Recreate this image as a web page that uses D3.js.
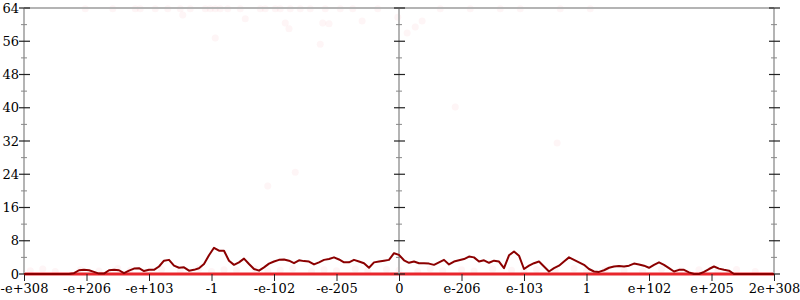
<!DOCTYPE html>
<html>
<head>
<meta charset="utf-8">
<script src="https://cdn.jsdelivr.net/npm/d3@7"></script>
<style>
  body { margin: 0; background: #fff; }
  text { font-family: "DejaVu Serif", serif; font-size: 13px; fill: #000; }
</style>
</head>
<body>
<div id="chart"></div>
<script>
// tick labels along x (evenly spaced positions 0..12)
var xLabels = ["-e+308", "-e+206", "-e+103", "-1", "-e-102", "-e-205", "0",
               "e-206", "e-103", "1", "e+102", "e+205", "2e+308"];
var yTicks = [0, 8, 16, 24, 32, 40, 48, 56, 64];
var yMinor = [4, 12, 20, 28, 36, 44, 52, 60];

// running average, 151 samples over the whole x range
var avgValues = [
  0, 0, 0, 0, 0, 0, 0, 0, 0, 0,
  0.2, 0.9, 1, 0.9, 0.5, 0.1, 0.1, 0.9, 1, 0.9,
  0.2, 0.8, 1.3, 1.4, 0.7, 1, 1, 1.8, 3.2, 3.4,
  2, 1.5, 1.6, 0.8, 1, 1.4, 2.4, 4.5, 6.3, 5.6,
  5.6, 3.2, 2.2, 2.8, 3.7, 2.4, 1.2, 0.8, 1.6, 2.5,
  3, 3.4, 3.5, 3.2, 2.6, 3.3, 3.1, 3, 2.3, 2.8,
  3.4, 3.6, 4, 3.5, 2.8, 2.8, 3.4, 3, 2.6, 1.5,
  2.8, 3, 3.2, 3.4, 5, 4.6, 3.3, 2.7, 3, 2.6,
  2.6, 2.5, 2.2, 2.8, 3.4, 2.3, 3, 3.3, 3.6, 4.2,
  4, 3, 3.3, 2.7, 3.2, 3, 1.4, 4.5, 5.4, 4.4,
  1.2, 2, 2.6, 3, 1.8, 0.6, 1.4, 2, 3, 4,
  3.4, 2.8, 2.2, 1.2, 0.6, 0.5, 0.9, 1.5, 1.8, 1.9,
  1.8, 2, 2.5, 2.3, 2, 1.5, 2.2, 2.8, 2.2, 1.4,
  0.6, 1, 1, 0.4, 0, 0, 0.5, 1.2, 1.8, 1.3,
  1, 0.8, 0, 0, 0, 0, 0, 0, 0, 0,
  0
];

// individual samples (x position in tick units, value)
var sampleX = [
  0.98, 1.42, 1.78, 1.86, 2.10, 2.30, 2.50, 2.66, 2.90, 2.98, 3.06, 3.14, 3.26, 3.46,
  3.78, 3.86, 4.02, 4.10, 4.26, 4.42, 4.58, 4.82, 5.06, 5.26, 5.66, 6.66, 7.14, 7.62,
  7.94, 8.58, 9.06,
  2.54, 3.54, 4.18, 4.24, 4.78, 4.88, 3.06, 4.74, 5.41, 5.98, 6.13, 6.26, 6.37, 6.90,
  8.53, 3.90, 4.34,
  0.1, 0.3, 0.5, 0.9, 1.2, 1.5, 1.7, 2.0, 2.2, 2.5, 2.8, 3.0, 3.2, 3.4, 3.7, 3.9,
  4.1, 4.3, 4.6, 4.8, 5.0, 5.3, 5.5, 5.8, 6.0, 6.3, 6.5, 6.7, 7.0, 7.2, 7.5, 7.8,
  8.0, 8.2, 8.5, 8.8, 9.0, 9.3, 9.6, 9.9, 10.2, 10.5, 10.8, 11.1, 11.4, 11.7
];
var sampleY = [
  63.8, 63.8, 63.8, 63.8, 63.8, 63.8, 63.8, 63.8, 63.8, 63.8, 63.8, 63.8, 63.8, 63.8,
  63.8, 63.8, 63.8, 63.8, 63.8, 63.8, 63.8, 63.8, 63.8, 63.8, 63.8, 63.8, 63.8, 63.8,
  63.8, 63.8, 63.8,
  62.3, 61.4, 60.4, 59.0, 60.4, 60.2, 56.8, 55.3, 60.9, 61.8, 58.0, 59.4, 60.9, 40.2,
  31.5, 21.2, 24.5,
  0.8, 1.2, 0.6, 1, 0.7, 1.3, 0.9, 0.5, 1.1, 0.8, 1.4, 0.6, 1, 0.9, 1.2, 0.7,
  0.9, 1.3, 0.6, 1, 0.8, 1.2, 0.7, 1.1, 0.9, 0.6, 1.3, 0.8, 1, 0.7, 1.2, 0.9,
  0.6, 1.1, 0.8, 1.3, 0.7, 1, 0.9, 0.6, 1.2, 0.8, 1, 0.7, 1.1, 0.6
];

var margin = {top: 8, right: 26, bottom: 26, left: 24},
    width = 800 - margin.left - margin.right,
    height = 300 - margin.top - margin.bottom;

var svg = d3.select("#chart").append("svg")
    .attr("width", 800).attr("height", 300)
  .append("g")
    .attr("transform", "translate(" + margin.left + "," + margin.top + ")");

var x = d3.scaleLinear().domain([0, xLabels.length - 1]).range([0, width]);
var y = d3.scaleLinear().domain([0, 64]).range([height, 0]);

var step = (xLabels.length - 1) / (avgValues.length - 1);

// samples
svg.selectAll(".dot")
    .data(sampleX.map(function (d, i) { return [d, sampleY[i]]; }))
    .enter().append("circle")
    .attr("class", "dot")
    .attr("cx", function (d) { return x(d[0]); })
    .attr("cy", function (d) { return y(d[1]); })
    .attr("r", 3.5)
    .attr("fill", "#e8202a")
    .attr("fill-opacity", 0.045);

// zero valued samples pile up on the floor
svg.append("line")
    .attr("x1", x(0)).attr("x2", x(xLabels.length - 1))
    .attr("y1", y(0)).attr("y2", y(0))
    .attr("stroke", "#e8262c")
    .attr("stroke-width", 3);

// grey frame lines
var grey = "#b4b4b4";
svg.append("line")
    .attr("x1", x(0)).attr("x2", x(xLabels.length - 1))
    .attr("y1", y(64)).attr("y2", y(64))
    .attr("stroke", grey).attr("stroke-width", 2);

[0, 6, 12].forEach(function (p) {
  var g = svg.append("g").attr("transform", "translate(" + x(p) + ",0)");
  g.append("line")
      .attr("y1", y(0)).attr("y2", y(64))
      .attr("stroke", grey).attr("stroke-width", 2);
  g.selectAll(".minor").data(yMinor).enter().append("line")
      .attr("x1", -3).attr("x2", 3)
      .attr("y1", function (d) { return y(d); }).attr("y2", function (d) { return y(d); })
      .attr("stroke", "#888").attr("stroke-width", 1);
  g.selectAll(".major").data(yTicks).enter().append("line")
      .attr("x1", -5).attr("x2", 6)
      .attr("y1", function (d) { return y(d); }).attr("y2", function (d) { return y(d); })
      .attr("stroke", "#222").attr("stroke-width", 1.2);
});

// y labels on the left
svg.selectAll(".ylab").data(yTicks).enter().append("text")
    .attr("x", -5)
    .attr("y", function (d) { return y(d); })
    .attr("dy", "0.35em")
    .attr("text-anchor", "end")
    .text(function (d) { return d; });

// x axis
var xAxis = svg.append("g")
    .attr("transform", "translate(0," + height + ")")
    .call(d3.axisBottom(x)
      .tickValues(d3.range(xLabels.length))
      .tickFormat(function (d) { return xLabels[d]; })
      .tickSize(7).tickPadding(3));
xAxis.select(".domain").remove();
xAxis.selectAll("line").attr("stroke", "#222");
xAxis.selectAll("text").style("font-family", "DejaVu Serif, serif").style("font-size", "13px");

// running average
var line = d3.line()
    .x(function (d, i) { return x(i * step); })
    .y(function (d) { return y(d); });

svg.append("path")
    .datum(avgValues)
    .attr("fill", "none")
    .attr("stroke", "#8b0000")
    .attr("stroke-width", 2)
    .attr("stroke-linejoin", "round")
    .attr("d", line);
</script>
</body>
</html>
